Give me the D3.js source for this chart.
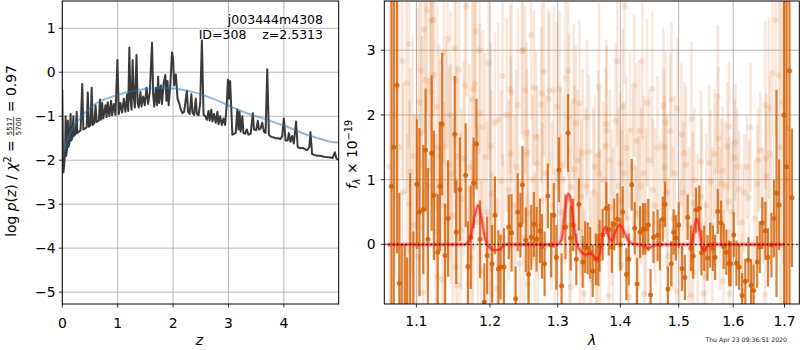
<!DOCTYPE html>
<html><head><meta charset="utf-8">
<script src="https://cdn.jsdelivr.net/npm/d3@7"></script>
<style>
body{margin:0;background:#fff;}
text{font-family:"DejaVu Sans",sans-serif;white-space:pre;}
</style></head><body>
<svg id="c" width="800" height="350"></svg>
<script>
// ---------- DATA ----------
const pzZ = [0.00,0.01,0.02,0.035,0.05,0.06,0.07,0.085,0.10,0.11,0.13,0.15,0.16,0.18,0.20,0.21,0.24,0.26,0.27,0.30,0.33,0.36,0.38,0.41,0.44,0.46,0.48,0.51,0.53,0.55,0.58,0.60,0.62,0.66,0.68,0.70,0.72,0.74,0.78,0.80,0.82,0.85,0.88,0.90,0.93,0.96,0.995,1.02,1.05,1.08,1.11,1.14,1.17,1.19,1.21,1.23,1.25,1.27,1.29,1.31,1.34,1.36,1.38,1.41,1.43,1.46,1.49,1.52,1.55,1.58,1.62,1.64,1.66,1.69,1.71,1.73,1.75,1.78,1.80,1.83,1.86,1.88,1.90,1.92,1.95,1.98,2.00,2.02,2.05,2.08,2.11,2.14,2.17,2.20,2.23,2.25,2.27,2.30,2.33,2.35,2.38,2.41,2.43,2.46,2.49,2.52,2.55,2.58,2.61,2.64,2.66,2.69,2.71,2.74,2.77,2.80,2.82,2.85,2.88,2.91,2.94,2.97,2.99,3.01,3.03,3.05,3.07,3.10,3.13,3.16,3.18,3.20,3.22,3.25,3.27,3.30,3.33,3.36,3.40,3.44,3.46,3.50,3.53,3.55,3.58,3.61,3.64,3.67,3.70,3.73,3.77,3.81,3.85,3.90,3.94,3.97,4.00,4.03,4.07,4.09,4.12,4.15,4.18,4.22,4.25,4.30,4.34,4.38,4.42,4.46,4.48,4.51,4.55,4.60,4.66,4.72,4.78,4.84,4.88,4.92,4.95,4.99];
const pzLogP = [-0.40,-1.6,-2.28,-2.1,-1.8,-1.0,-1.9,-1.75,-1.1,-1.7,-1.6,-0.95,-1.55,-1.5,-1.0,-1.45,-1.4,-0.9,-1.38,-1.35,-1.32,-0.27,-1.3,-1.28,-1.25,-0.46,-1.24,-1.2,-0.35,-1.2,-1.15,-0.75,-1.13,-1.1,-0.62,-1.08,-0.7,-1.05,-0.75,-1.02,-0.68,-1.0,-0.65,-0.98,-0.72,-0.97,0.28,-0.95,-0.7,-0.92,-0.6,-0.9,-0.5,-0.88,0.56,-0.6,-0.85,0.28,-0.55,-0.8,0.39,-0.7,-0.8,-0.45,-0.78,-0.55,-0.75,-0.35,-0.72,-0.45,0.67,-0.5,-0.78,-0.35,-0.75,-0.10,-0.7,-0.3,-0.72,-0.25,-0.06,-0.65,-0.2,-0.75,-0.3,0.45,0.30,-0.3,-0.05,-0.6,-0.7,-0.85,-0.93,-0.9,-0.6,-0.42,-0.9,-0.95,-0.5,-0.92,-0.97,-0.6,-0.95,-0.98,-0.7,0.72,-0.96,-1.0,-1.08,-0.88,-1.1,-0.85,-1.12,-0.95,-1.15,-0.9,-1.18,-1.0,-1.2,-1.05,-1.2,-0.7,-0.17,-0.6,-0.2,-0.8,-1.42,-1.4,-1.38,-0.85,-1.3,-0.9,-1.35,-1.0,-1.38,-1.4,-1.3,-1.42,-1.4,-0.93,-1.3,-1.32,-1.1,-1.3,-1.28,-1.15,-1.35,-1.38,0.07,-1.42,-1.47,-1.48,-1.5,-1.5,-1.52,-1.45,-1.05,-1.55,-1.55,-1.38,-1.58,-1.45,-1.62,-1.12,-1.7,-1.73,-1.72,-1.75,-1.77,-1.7,-1.36,-1.86,-1.88,-1.9,-1.9,-1.92,-1.93,-1.94,-1.95,-1.82,-1.96,-2.0];

const priorZ = [0.0,0.02,0.07,0.14,0.22,0.32,0.45,0.62,0.8,0.98,1.2,1.4,1.6,1.77,2.0,2.25,2.45,2.61,2.8,2.97,3.15,3.33,3.5,3.7,3.9,4.06,4.25,4.48,4.7,4.85,4.99];
const priorLogP = [-1.95,-1.85,-1.62,-1.39,-1.2,-1.05,-0.87,-0.70,-0.6,-0.52,-0.45,-0.40,-0.37,-0.36,-0.37,-0.42,-0.48,-0.55,-0.64,-0.74,-0.84,-0.93,-1.0,-1.08,-1.17,-1.24,-1.34,-1.45,-1.53,-1.58,-1.60];

const boldWave = [1.068,1.071,1.075,1.078,1.081,1.085,1.088,1.092,1.096,1.1005,1.104,1.109,1.112,1.115,1.120,1.123,1.128,1.131,1.134,1.138,1.142,1.151,1.153,1.158,1.166,1.169,1.173,1.177,1.181,1.186,1.192,1.196,1.203,1.207,1.212,1.215,1.220,1.227,1.231,1.237,1.240,1.244,1.247,
1.252,1.256,1.260,1.264,1.268,1.273,1.276,1.280,1.285,1.290,1.294,1.298,1.302,1.306,1.312,1.316,1.320,1.324,1.329,1.333,1.339,1.343,1.347,1.351,1.355,1.360,1.364,1.366,1.371,1.377,1.381,1.386,1.390,1.395,1.400,1.404,1.410,1.414,1.419,1.424,1.428,1.433,1.438,1.442,1.447,1.451,1.456,1.463,1.467,
1.472,1.476,1.481,1.487,1.491,1.495,1.500,1.506,1.511,1.516,1.522,1.526,1.531,1.537,1.541,1.546,1.552,1.557,1.562,1.566,1.571,1.577,1.582,1.587,1.592,1.595,1.601,1.606,1.611,1.617,1.623,1.629,1.634,1.639,1.646,1.651,1.656,1.662,1.667,1.674,1.679,1.684,1.689,1.699,1.704,1.710,1.715];
const boldFlux = [0.9,1.5,2.46,-0.6,-1.2,-1.1,-1.3,-1.0,-1.1,0.93,0.50,0.54,1.46,0.08,1.41,0.76,-0.12,0.90,1.86,-0.17,0.40,1.70,0.19,0.85,1.07,-0.34,0.11,0.95,1.55,0.08,-0.89,-0.17,-0.30,0.45,-0.38,-0.35,-0.35,0.27,0.18,-0.84,0.50,0.30,0.92,
0.07,-0.46,0.11,0.31,0.08,0.21,-0.03,-0.30,0.75,-0.01,0.45,-0.20,1.15,-0.64,0.27,1.72,0.10,0.30,-0.23,0.62,-0.27,-0.04,-0.06,-0.13,-0.41,-0.23,-0.24,-0.02,0.15,0.56,0.23,-0.04,0.31,0.39,0.00,0.50,-0.46,-0.23,0.92,0.25,-0.61,0.19,0.24,0.24,0.30,-0.78,0.11,0.14,0.0,
0.39,0.62,-0.69,-0.30,0.19,0.10,0.30,-0.37,-0.51,0.42,-0.06,-0.18,0.53,0.56,-0.13,-0.06,-0.21,-0.01,-0.06,-0.20,0.51,0.33,-0.03,-0.12,-0.29,-0.30,0.15,-0.29,-0.35,-0.79,-0.57,-0.24,-0.63,-0.71,-0.27,-0.04,0.33,0.21,-0.20,-0.01,0.40,0.79,0.61,2.00,1.2,2.68,0.72];
const boldErr = [2.9,3.0,2.6,1.4,1.2,1.1,1.1,2.1,1.3,1.0,1.3,1.0,0.95,1.1,1.2,1.0,0.9,1.0,1.1,0.8,0.9,0.9,0.8,0.8,0.8,0.7,0.8,0.7,0.7,0.6,0.6,0.6,0.6,0.6,0.6,0.5,0.6,0.5,0.6,0.5,0.6,0.5,0.6,
0.5,0.5,0.5,0.5,0.5,0.5,0.5,0.5,0.5,0.5,0.5,0.5,0.5,0.5,0.5,0.6,0.5,0.4,0.4,0.4,0.4,0.4,0.4,0.4,0.4,0.4,0.4,0.4,0.4,0.4,0.4,0.4,0.4,0.4,0.4,0.4,0.4,0.4,0.4,0.4,0.4,0.4,0.4,0.4,0.4,0.4,0.4,0.4,0.4,
0.35,0.35,0.35,0.35,0.35,0.35,0.35,0.35,0.35,0.35,0.35,0.35,0.35,0.35,0.35,0.35,0.35,0.35,0.35,0.35,0.35,0.35,0.35,0.35,0.35,0.35,0.35,0.35,0.35,0.35,0.35,0.35,0.4,0.4,0.4,0.4,0.4,0.45,0.45,0.5,0.6,1.6,0.7,3.0,3.5,4.0,1.07];

const faintWave = [1.066,1.072,1.078,1.114,1.119,1.122,1.110,1.082,1.106,1.087,1.112,1.118,1.123,1.141,1.136,1.151,1.153,1.165,1.167,1.180,1.179,1.177,1.175,1.127,1.120,1.101,1.130,1.107,1.095,1.092,1.083,1.131,1.139,1.143,1.146,1.154,1.163,1.171,1.186,1.190,1.193,1.207,1.212,1.201,1.216,1.230,1.229,1.231,1.240,1.246,1.202,1.227,1.174,1.155,1.152,1.134,1.128,1.109,1.088,1.091,1.102,1.170,1.188,1.203,1.210,1.176,1.159,1.097,1.115,1.125,1.137,1.148,1.160,1.183,1.196,1.219,1.235,1.243,
1.260,1.248,1.407,1.395,1.437,1.365,1.312,1.251,1.264,1.279,1.276,1.287,1.294,1.303,1.316,1.286,1.275,1.299,1.325,1.334,1.346,1.317,1.404,1.423,1.445,1.454,1.377,1.392,1.378,1.416,1.432,1.267,1.253,1.328,1.339,1.349,1.364,1.376,1.410,1.427,1.254,1.269,1.326,1.304,1.366,1.400,1.439,1.296,1.320,1.341,1.381,1.414,1.440,1.352,1.363,1.265,1.401,1.255,1.337,1.356,1.386,1.402,1.430,1.455,1.256,1.277,1.321,1.367,
1.682,1.676,1.689,1.662,1.669,1.633,1.571,1.487,1.473,1.498,1.523,1.477,1.485,1.505,1.592,1.572,1.589,1.604,1.603,1.652,1.663,1.510,1.474,1.475,1.513,1.540,1.555,1.569,1.580,1.558,1.578,1.630,1.646,1.664,1.611,1.525,1.541,1.591,1.617,1.502,1.481,1.526,1.548,1.581,1.593,1.616,1.637,1.661,1.545,1.496,1.522,1.692,1.697,1.702,1.706,
1.305,1.309,1.318,1.331,1.335,1.344,1.358,1.361,1.372,1.383,1.388,1.397,1.406,1.412,1.421,1.426,1.435,1.443,1.449,1.459,1.463,1.468,1.479,1.490,1.493,1.508,1.518,1.528,1.534,1.550,1.561,1.565,1.575,1.585,1.597,1.608,1.621,1.626,1.641,1.648,1.657,1.671,1.262,1.270,1.282,1.291,1.249,1.238,1.224,1.218,1.198,1.185,1.157,1.145,1.104,1.090];
const faintFlux = [1.2,2.0,1.5,3.62,3.46,3.47,3.32,2.83,2.69,2.49,2.54,2.52,2.62,3.17,2.96,3.03,2.53,2.45,3.68,3.29,2.48,2.40,2.24,2.13,2.36,1.95,1.50,1.72,1.37,1.12,0.81,1.36,1.52,1.24,1.09,1.36,1.33,1.19,2.02,1.81,1.35,1.88,1.92,1.52,0.98,1.40,2.40,2.35,2.15,2.99,0.78,0.84,-0.20,-0.63,-0.35,-0.54,-0.50,-0.74,-0.09,0.62,-0.19,-0.61,-0.42,-0.37,-0.69,-0.05,0.22,0.3,0.9,0.2,0.6,0.45,0.7,0.35,0.5,0.1,0.6,-0.3,
3.23,3.00,3.68,2.83,2.83,2.43,2.57,2.38,2.42,2.67,2.33,2.38,2.38,2.41,2.68,2.25,2.16,2.13,2.21,2.18,1.96,1.96,2.13,2.45,2.19,2.40,1.86,1.91,1.76,1.76,1.75,1.66,1.72,1.87,1.41,1.43,1.38,1.52,1.49,1.60,1.41,1.25,1.16,1.22,1.09,1.25,1.10,-0.13,-0.66,-0.76,-0.79,-0.81,-0.76,-0.55,-0.39,-0.19,-0.32,-0.61,0.74,0.80,0.57,0.68,0.48,0.84,0.48,0.68,0.89,0.27,
3.47,2.64,2.61,2.15,2.10,1.81,2.29,2.24,2.14,2.10,1.94,1.88,1.75,1.70,1.82,1.64,1.51,1.58,1.34,1.45,1.33,1.41,1.51,1.19,1.23,1.28,1.26,1.14,1.14,0.97,0.94,0.72,0.94,1.06,0.85,0.64,0.74,0.66,0.34,-0.09,-0.18,-0.41,-0.51,-0.57,-0.76,-0.72,-0.82,-0.77,-0.76,-0.72,-0.79,1.5,2.2,1.0,1.8,
0.5,1.0,0.3,1.3,0.2,0.9,1.2,0.1,1.0,1.3,0.2,0.9,1.1,0.4,1.2,0.1,0.9,0.5,1.3,0.6,1.5,0.3,0.8,0.4,1.1,0.8,0.3,1.0,0.2,0.6,0.3,1.4,0.4,0.9,0.5,1.2,0.8,1.2,0.4,1.3,0.6,1.4,1.0,0.3,1.1,0.6,0.1,1.2,2.0,2.6,2.8,3.0,2.7,2.0,2.2,3.1];
const faintErr = [3.0,2.5,2.5,1.6,1.7,1.5,1.6,1.8,1.5,1.7,1.6,1.4,1.5,1.6,1.7,1.5,1.6,1.5,1.4,1.5,1.6,1.7,1.5,1.6,1.8,1.7,1.6,1.5,1.8,1.6,1.7,1.5,1.6,1.5,1.7,1.4,1.5,1.6,1.4,1.5,1.6,1.4,1.5,1.6,1.4,1.5,1.3,1.4,1.5,1.3,1.6,1.4,1.5,1.6,1.4,1.7,1.5,1.6,1.8,1.6,1.7,1.5,1.4,1.5,1.4,1.6,1.5,1.7,1.6,1.5,1.6,1.5,1.4,1.5,1.4,1.3,1.4,1.3,
1.3,1.4,1.2,1.3,1.2,1.3,1.4,1.3,1.2,1.3,1.4,1.2,1.3,1.2,1.3,1.4,1.2,1.3,1.2,1.3,1.2,1.3,1.2,1.1,1.3,1.2,1.3,1.2,1.3,1.2,1.1,1.3,1.4,1.2,1.3,1.2,1.3,1.2,1.1,1.2,1.3,1.2,1.3,1.2,1.3,1.1,1.2,1.3,1.2,1.3,1.2,1.1,1.2,1.3,1.2,1.3,1.2,1.4,1.2,1.3,1.2,1.1,1.2,1.1,1.3,1.2,1.3,1.2,
1.8,1.6,1.8,1.3,1.4,1.0,1.1,1.2,1.2,1.1,1.2,1.1,1.2,1.1,1.0,1.1,1.0,0.9,0.9,0.9,1.0,1.1,1.2,1.1,1.2,1.1,1.2,1.1,1.0,1.1,1.0,0.9,0.9,1.0,0.9,1.1,1.2,1.0,0.9,1.1,1.2,1.1,1.2,1.1,1.0,0.9,0.9,1.0,1.1,1.2,1.1,2.5,2.5,3.0,3.0,
1.2,1.3,1.2,1.1,1.3,1.2,1.1,1.3,1.2,1.1,1.3,1.2,1.1,1.3,1.2,1.1,1.2,1.3,1.1,1.2,1.1,1.3,1.2,1.1,1.2,1.1,1.2,1.1,1.2,1.1,1.2,1.0,1.1,1.0,1.1,0.9,0.9,0.8,0.9,0.8,0.9,1.2,1.3,1.4,1.2,1.3,1.4,1.5,1.5,1.4,1.5,1.6,1.5,1.6,1.7,1.6];

const modelWave = [1.062,1.165,1.172,1.178,1.183,1.188,1.194,1.200,1.208,1.215,1.222,1.300,1.306,1.311,1.316,1.320,1.325,1.330,1.336,1.343,1.350,1.356,1.362,1.367,1.372,1.376,1.381,1.386,1.392,1.399,1.405,1.412,1.418,1.430,1.440,1.447,1.455,1.465,1.522,1.527,1.532,1.537,1.542,1.547,1.552,1.556,1.700];
const modelFlux = [0,0,0.08,0.4,0.6,0.4,0.05,-0.05,-0.09,-0.07,0,0,0.08,0.5,0.78,0.7,0.3,0.0,-0.1,-0.16,-0.14,-0.17,-0.24,-0.12,0.2,0.27,0.12,0.05,0.2,0.3,0.22,0.08,0.02,0.0,-0.02,-0.06,-0.02,0,0,0.2,0.4,0.25,-0.05,-0.1,-0.02,0,0];

const zTicks = [0,1,2,3,4];
const logpTicks = [1,0,-1,-2,-3,-4,-5];
const waveTicks = [1.1,1.2,1.3,1.4,1.5,1.6,1.7];
const fluxTicks = [0,1,2,3];

// ---------- SETUP ----------
const svg = d3.select("#c");
const L = {x0:62.3, x1:338.7, y0:1, y1:304};
const R = {x0:384.3, x1:799.3, y0:1, y1:304};
const xL = d3.scaleLinear().domain([0,4.99]).range([L.x0,L.x1]);
const yL = d3.scaleLinear().domain([-5.27,1.62]).range([L.y1,L.y0]);
const xR = d3.scaleLog().domain([1.059,1.730]).range([R.x0,R.x1]);
const yR = d3.scaleLinear().domain([-0.92,3.76]).range([R.y1,R.y0]);
const FS = "13.9px";
const GRID = "#b0b0b0";

const defs = svg.append("defs");
defs.append("clipPath").attr("id","clipL").append("rect").attr("x",L.x0).attr("y",L.y0).attr("width",L.x1-L.x0).attr("height",L.y1-L.y0);
defs.append("clipPath").attr("id","clipR").append("rect").attr("x",R.x0).attr("y",R.y0).attr("width",R.x1-R.x0).attr("height",R.y1-R.y0);

function grid(A, xs, ys, xt, yt){
  const g = svg.append("g");
  g.selectAll(".gx").data(xt).enter().append("line")
    .attr("x1",d=>xs(d)).attr("x2",d=>xs(d)).attr("y1",A.y0).attr("y2",A.y1)
    .attr("stroke",GRID).attr("stroke-width",0.9);
  g.selectAll(".gy").data(yt).enter().append("line")
    .attr("y1",d=>ys(d)).attr("y2",d=>ys(d)).attr("x1",A.x0).attr("x2",A.x1)
    .attr("stroke",GRID).attr("stroke-width",0.9);
}
function axes(A, xs, ys, xt, yt, xfmt, yfmt, xBase, yAnchor){
  const g = svg.append("g");
  g.selectAll(".tx").data(xt).enter().append("line")
    .attr("x1",d=>xs(d)).attr("x2",d=>xs(d)).attr("y1",A.y1).attr("y2",A.y1+3.5)
    .attr("stroke","#000").attr("stroke-width",0.8);
  g.selectAll(".lx").data(xt).enter().append("text")
    .attr("x",d=>xs(d)).attr("y",xBase).attr("text-anchor","middle")
    .style("font-size",FS).text(xfmt);
  g.selectAll(".ty").data(yt).enter().append("line")
    .attr("y1",d=>ys(d)).attr("y2",d=>ys(d)).attr("x1",A.x0-3.5).attr("x2",A.x0)
    .attr("stroke","#000").attr("stroke-width",0.8);
  g.selectAll(".ly").data(yt).enter().append("text")
    .attr("x",yAnchor).attr("y",d=>ys(d)).attr("dy","0.36em").attr("text-anchor","end")
    .style("font-size",FS).text(yfmt);
  g.append("rect").attr("x",A.x0).attr("y",A.y0).attr("width",A.x1-A.x0).attr("height",A.y1-A.y0)
    .attr("fill","none").attr("stroke","#000").attr("stroke-width",1);
}
const minusFmt = d => (d<0 ? "\u2212"+Math.abs(d) : String(d));

// ---------- LEFT PANEL ----------
grid(L, xL, yL, zTicks, logpTicks);
const gLd = svg.append("g").attr("clip-path","url(#clipL)");
const pz = pzZ.map((z,i)=>[z,pzLogP[i]]);
gLd.append("path").datum(pz)
  .attr("d", d3.line().x(d=>xL(d[0])).y(d=>yL(d[1])))
  .attr("fill","none").attr("stroke","#3a3a3a").attr("stroke-width",2).attr("stroke-linejoin","round");
const pr = priorZ.map((z,i)=>[z,priorLogP[i]]);
gLd.append("path").datum(pr)
  .attr("d", d3.line().curve(d3.curveMonotoneX).x(d=>xL(d[0])).y(d=>yL(d[1])))
  .attr("fill","none").attr("stroke","#1f77b4").attr("stroke-opacity",0.5).attr("stroke-width",2);
axes(L, xL, yL, zTicks, logpTicks, d=>String(d), minusFmt, 327.5, 55.5);

svg.append("text").attr("x",323).attr("y",24).attr("text-anchor","end").style("font-size","12.5px").text("j003444m4308");
svg.append("text").attr("x",323).attr("y",39).attr("text-anchor","end").style("font-size","12.5px").text("ID=308    z=2.5313");

svg.append("text").attr("x",199.5).attr("y",345).attr("text-anchor","middle").style("font-size",FS).style("font-style","italic").text("z");

(function(){
  const g = svg.append("g").attr("transform","translate(16.3,152) rotate(-90)");
  const t1 = g.append("text").attr("x",0).attr("y",0).style("font-size",FS);
  t1.append("tspan").text("log ");
  t1.append("tspan").style("font-style","italic").text("p");
  t1.append("tspan").text("(");
  t1.append("tspan").style("font-style","italic").text("z");
  t1.append("tspan").text(") / ");
  t1.append("tspan").style("font-style","italic").text("\u03c7");
  t1.append("tspan").attr("dy",-5.5).style("font-size","9.7px").text("2");
  t1.append("tspan").attr("dy",5.5).text(" = ");
  const l1 = t1.node().getComputedTextLength();
  const num = g.append("text").attr("y",-4.8).style("font-size","7px").attr("text-anchor","middle").text("5517");
  const den = g.append("text").attr("y",4.8).style("font-size","7px").attr("text-anchor","middle").text("5700");
  const fw = Math.max(num.node().getComputedTextLength(), den.node().getComputedTextLength()) + 1.5;
  const t3 = g.append("text").attr("y",0).style("font-size",FS).text(" = 0.97");
  const l3 = t3.node().getComputedTextLength();
  const total = l1 + fw + l3;
  const start = -total/2 + 1;
  t1.attr("x", start);
  num.attr("x", start + l1 + fw/2);
  den.attr("x", start + l1 + fw/2);
  g.append("line").attr("x1",start+l1).attr("x2",start+l1+fw).attr("y1",-2.6).attr("y2",-2.6)
    .attr("stroke","#000").attr("stroke-width",0.7);
  t3.attr("x", start + l1 + fw);
})();

// ---------- RIGHT PANEL ----------
grid(R, xR, yR, waveTicks, fluxTicks);
const gRd = svg.append("g").attr("clip-path","url(#clipR)");
const ORANGE = "#D55E00";
const faint = faintWave.map((w,i)=>({w, f:faintFlux[i], e:faintErr[i]}));
const bold = boldWave.map((w,i)=>({w, f:boldFlux[i], e:boldErr[i]}));

gRd.append("g").selectAll("line").data(faint).enter().append("line")
  .attr("x1",d=>xR(d.w)).attr("x2",d=>xR(d.w))
  .attr("y1",d=>yR(d.f-d.e)).attr("y2",d=>yR(d.f+d.e))
  .attr("stroke",ORANGE).attr("stroke-opacity",0.14).attr("stroke-width",2.6);
gRd.append("g").selectAll("circle").data(faint).enter().append("circle")
  .attr("cx",d=>xR(d.w)).attr("cy",d=>yR(d.f)).attr("r",3.1)
  .attr("fill",ORANGE).attr("fill-opacity",0.14);

gRd.append("g").selectAll("line").data(bold).enter().append("line")
  .attr("x1",d=>xR(d.w)).attr("x2",d=>xR(d.w))
  .attr("y1",d=>yR(d.f-d.e)).attr("y2",d=>yR(d.f+d.e))
  .attr("stroke",ORANGE).attr("stroke-opacity",0.8).attr("stroke-width",2.2);
gRd.append("g").selectAll("circle").data(bold).enter().append("circle")
  .attr("cx",d=>xR(d.w)).attr("cy",d=>yR(d.f)).attr("r",2.5)
  .attr("fill",ORANGE).attr("fill-opacity",0.85);

const model = modelWave.map((w,i)=>[w,modelFlux[i]]);
const mline = d3.line().curve(d3.curveMonotoneX).x(d=>xR(d[0])).y(d=>yR(d[1]));
gRd.append("path").datum(model).attr("d",mline).attr("fill","none")
  .attr("stroke","#ff3030").attr("stroke-opacity",0.25).attr("stroke-width",4.5);
gRd.append("path").datum(model).attr("d",mline).attr("fill","none")
  .attr("stroke","#ff1a1a").attr("stroke-opacity",0.7).attr("stroke-width",2);

gRd.append("line").attr("x1",R.x0).attr("x2",R.x1).attr("y1",yR(0)).attr("y2",yR(0))
  .attr("stroke","#000").attr("stroke-opacity",0.8).attr("stroke-width",1.6).attr("stroke-dasharray","1.6,2.6");

axes(R, xR, yR, waveTicks, fluxTicks, d3.format(".1f"), d=>String(d), 325.5, 375.5);

svg.append("text").attr("x",592).attr("y",345).attr("text-anchor","middle").style("font-size",FS).style("font-style","italic").text("\u03bb");

(function(){
  const g = svg.append("g").attr("transform","translate(357,154.5) rotate(-90)");
  const t = g.append("text").attr("text-anchor","middle").style("font-size",FS);
  t.append("tspan").style("font-style","italic").text("f");
  t.append("tspan").attr("dy",3).style("font-size","9.7px").style("font-style","italic").text("\u03bb");
  t.append("tspan").attr("dy",-3).text(" \u00d7 10");
  t.append("tspan").attr("dy",-5.5).style("font-size","9.7px").text("\u221219");
})();

svg.append("text").attr("x",787).attr("y",342).attr("text-anchor","end").style("font-size","6.2px").attr("fill","#222").text("Thu Apr 23 09:36:51 2020");
</script>
</body></html>
